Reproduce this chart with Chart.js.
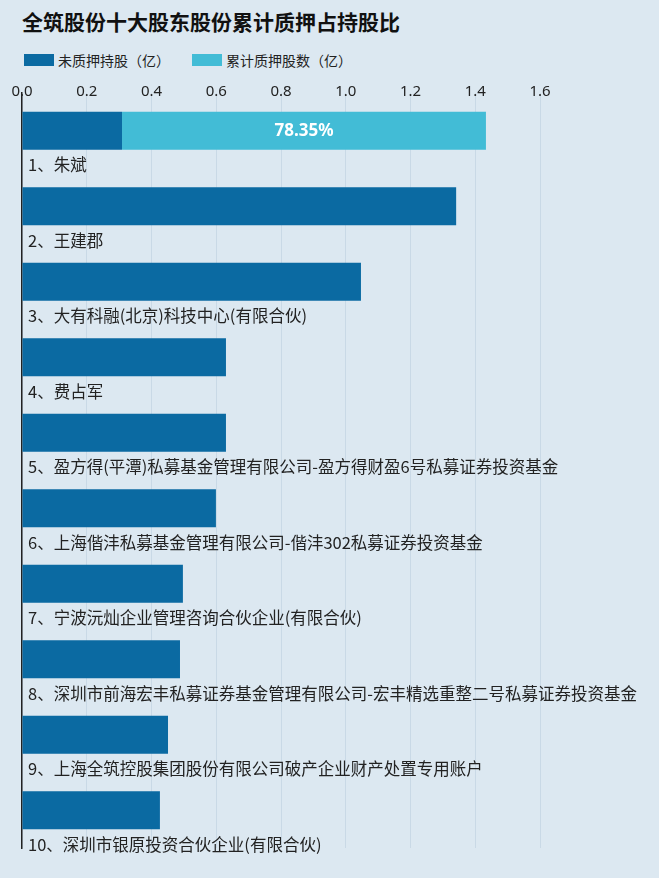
<!DOCTYPE html>
<html><head><meta charset="utf-8">
<script src="https://cdn.jsdelivr.net/npm/chart.js@4"></script>
<style>
html,body{margin:0;padding:0;background:#dce8f1;}
#wrap{position:relative;width:659px;height:878px;}
h1{position:absolute;left:22px;top:6px;margin:0;font:bold 21px "Noto Sans CJK SC";color:#111;}
#legend{position:absolute;left:24px;top:50px;font:14px "Noto Sans CJK SC";color:#222;display:flex;gap:22px;}
#legend span{display:inline-flex;align-items:center;}
#legend i{display:inline-block;width:30px;height:12px;margin-right:4px;}
#c{position:absolute;left:0;top:60px;}
</style></head><body>
<div id="wrap">
<h1>全筑股份十大股东股份累计质押占持股比</h1>
<div id="legend"><span><i style="background:#0b6aa2"></i>未质押持股（亿）</span><span><i style="background:#42bcd6"></i>累计质押股数（亿）</span></div>
<canvas id="c" width="659" height="818"></canvas>
</div>
<script>
const categories=["1、朱斌","2、王建郡","3、大有科融(北京)科技中心(有限合伙)","4、费占军","5、盈方得(平潭)私募基金管理有限公司-盈方得财盈6号私募证券投资基金","6、上海偕沣私募基金管理有限公司-偕沣302私募证券投资基金","7、宁波沅灿企业管理咨询合伙企业(有限合伙)","8、深圳市前海宏丰私募证券基金管理有限公司-宏丰精选重整二号私募证券投资基金","9、上海全筑控股集团股份有限公司破产企业财产处置专用账户","10、深圳市银原投资合伙企业(有限合伙)"];
const unpledged=[0.309,1.341,1.047,0.630,0.630,0.599,0.497,0.488,0.451,0.426];
const pledged=[1.124,0,0,0,0,0,0,0,0,0];
const pctLabels=["78.35%","","","","","","","","",""];
const ticks=[0,0.2,0.4,0.6,0.8,1.0,1.2,1.4,1.6];
const labelPlugin={id:'lbl',afterDatasetsDraw(ch){
 const ctx=ch.ctx;const m0=ch.getDatasetMeta(0),m1=ch.getDatasetMeta(1);const sx=ch.scales.x;
 ctx.save();
 ctx.fillStyle='#222';ctx.font='15px "Noto Sans"';ctx.textBaseline='middle';ctx.textAlign='center';
 ticks.forEach(v=>ctx.fillText(v.toFixed(1),sx.getPixelForValue(v),32));
 m0.data.forEach((b,i)=>{
  ctx.fillStyle='#222';ctx.font='16.5px "Noto Sans CJK SC"';ctx.textBaseline='middle';ctx.textAlign='left';
  ctx.fillText(categories[i],ch.chartArea.left+6,b.y+b.height/2+15);
  if(pctLabels[i]){const p=m1.data[i];ctx.fillStyle='#fff';ctx.font='bold 17px "Noto Sans"';ctx.textAlign='center';
   ctx.fillText(pctLabels[i],(p.x+p.base)/2,p.y);}
 });
 ctx.restore();}};
new Chart(document.getElementById('c'),{type:'bar',
 data:{labels:categories,datasets:[
  {data:unpledged,backgroundColor:'#0b6aa2',borderWidth:0},
  {data:pledged,backgroundColor:'#42bcd6',borderWidth:0}]},
 options:{indexAxis:'y',responsive:false,animation:false,
  layout:{padding:{left:14,right:119,top:33,bottom:30}},
  plugins:{legend:{display:false},tooltip:{enabled:false}},
  datasets:{bar:{categoryPercentage:0.503,barPercentage:1}},
  scales:{
   x:{position:'top',min:0,max:1.6,stacked:true,
    afterBuildTicks(s){s.ticks=ticks.map(v=>({value:v}));},
    ticks:{display:false},
    grid:{color:'#c9d9e6',drawTicks:false},border:{display:false}},
   y:{stacked:true,ticks:{display:false},grid:{display:false},
    border:{display:true,color:'#222',width:1.5}}
  }},
 plugins:[labelPlugin]});
</script></body></html>
